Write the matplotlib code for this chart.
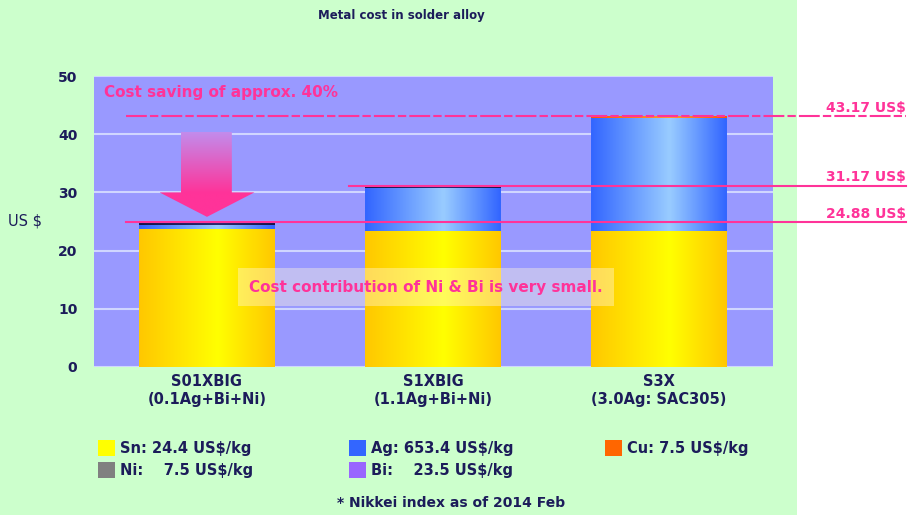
import numpy as np
import matplotlib
matplotlib.use("Agg")
import matplotlib.pyplot as plt
from matplotlib.patches import Rectangle, Polygon
from matplotlib.colors import to_rgb

plt.rcParams['font.family'] = ['DejaVu Sans']
plt.rcParams['font.weight'] = 'bold'

# data (US$ per kg alloy)
alloys = ['S01XBIG\n(0.1Ag+Bi+Ni)', 'S1XBIG\n(1.1Ag+Bi+Ni)', 'S3X\n(3.0Ag: SAC305)']
sn = [23.70, 23.30, 23.30]
ag = [0.65, 7.40, 19.55]
cu = [0.03, 0.04, 0.32]
ni = [0.05, 0.03, 0.00]
bi = [0.45, 0.40, 0.00]
totals = [24.88, 31.17, 43.17]
total_labels = ['24.88 US$', '31.17 US$', '43.17 US$']

legend_labels = ['Sn: 24.4 US$/kg', 'Ag: 653.4 US$/kg', 'Cu: 7.5 US$/kg',
                 'Ni:    7.5 US$/kg', 'Bi:    23.5 US$/kg']
legend_colors = ['#ffff00', '#3366ff', '#ff6600', '#808080', '#9966ff']

navy = '#1c1c5a'
pink = '#ff3399'

fig = plt.figure(figsize=(9.12, 5.15), dpi=100, facecolor='white')
fig.patches.append(Rectangle((0, 0), 797 / 912, 1, transform=fig.transFigure,
                             facecolor='#ccffcc', edgecolor='none', zorder=-10))

ax = fig.add_axes([94 / 912, 148 / 515, 679 / 912, 291 / 515])
ax.set_facecolor('#9999ff')
for s in ax.spines.values():
    s.set_visible(False)

x = np.arange(len(alloys))
w = 0.6

# segment colour gradients (edge, centre, edge)
grads = [('#ffc800', '#ffff00', '#ffc800'),
         ('#3366ff', '#99ccff', '#3366ff'),
         ('#ff5500', '#ff9933', '#ff5500'),
         ('#222233', '#555566', '#222233'),
         ('#14144a', '#2a2a70', '#14144a')]


def gradient(c_edge, c_mid, c_edge2, n=64):
    t = np.linspace(0, 1, n)
    a, b, c = np.array(to_rgb(c_edge)), np.array(to_rgb(c_mid)), np.array(to_rgb(c_edge2))
    pos = 0.58
    out = np.where(t[:, None] < pos,
                   a + (b - a) * (t[:, None] / pos),
                   b + (c - b) * ((t[:, None] - pos) / (1 - pos)))
    return out[None, :, :]


bottom = np.zeros(len(alloys))
for vals, g in zip([sn, ag, cu, ni, bi], grads):
    vals = np.array(vals)
    ax.bar(x, vals, w, bottom=bottom, color=g[1], edgecolor='none', zorder=2)
    img = gradient(*g)
    for xi, b, v in zip(x, bottom, vals):
        if v > 0:
            ax.imshow(img, extent=(xi - w / 2, xi + w / 2, b, b + v),
                      aspect='auto', zorder=3, interpolation='bilinear')
    bottom = bottom + vals

ax.set_yticks(range(0, 51, 10))
ax.yaxis.grid(True, color='#d0d6ff', linewidth=1.5, zorder=0)
ax.set_axisbelow(True)
ax.tick_params(length=0, labelsize=10, labelcolor=navy)
ax.tick_params(axis='y', pad=12)
ax.set_xticks(x)
ax.set_xticklabels(alloys, fontsize=10.5, color=navy, linespacing=1.25)
ax.tick_params(axis='x', pad=5)
ax.set_ylabel('US $', rotation=0, fontsize=10.5, color=navy, labelpad=24, va='center')

# total-cost reference lines
x_right = 3.093
ax.plot([-0.358, x_right], [totals[2], totals[2]], color=pink, lw=1.5,
        ls=(0, (10, 1.5, 4, 1.5)), clip_on=False, zorder=5)
ax.plot([0.628, x_right], [totals[1], totals[1]], color=pink, lw=1.5, clip_on=False, zorder=5)
ax.plot([-0.358, x_right], [totals[0], totals[0]], color=pink, lw=1.5, clip_on=False, zorder=5)
for t, lab in zip(totals, total_labels):
    ax.text(x_right, t + 0.2, lab, color=pink, fontsize=10, ha='right', va='bottom',
            clip_on=False)

# big arrow pointing at S01XBIG
arrow = Polygon([(-0.115, 40.4), (0.11, 40.4), (0.11, 30.0), (0.21, 30.0),
                 (0.0, 25.8), (-0.21, 30.0), (-0.115, 30.0)], closed=True,
                facecolor='none', edgecolor='none', zorder=4)
ax.add_patch(arrow)
agrad = np.linspace(0, 1, 200)[:, None]
top_c, bot_c = np.array(to_rgb('#c28cec')), np.array(to_rgb('#ff3399'))
acol = top_c + (bot_c - top_c) * np.clip(agrad * 1.4, 0, 1)
aim = ax.imshow(acol[:, None, :].repeat(2, axis=1), extent=(-0.21, 0.21, 25.8, 40.4),
                aspect='auto', zorder=4, interpolation='bilinear')
aim.set_clip_path(arrow)

ax.text(-0.455, 47.1, 'Cost saving of approx. 40%', color=pink, fontsize=11,
        ha='left', va='center', zorder=6)
ax.text(0.97, 13.7, 'Cost contribution of Ni & Bi is very small.', color=pink,
        fontsize=11, ha='center', va='center', zorder=6,
        bbox=dict(boxstyle='square,pad=0.75', facecolor='#fff8e0', alpha=0.4,
                  edgecolor='none'))

ax.set_xlim(-0.5, 2.505)
ax.set_ylim(0, 50)

fig.text(401 / 912, 1 - 15 / 515, 'Metal cost in solder alloy', color=navy,
         fontsize=8.5, ha='center', va='center')

# legend drawn as swatches + text
leg_pos = [(98, 448), (349, 448), (605, 448), (98, 470), (349, 470)]
for (px, py), lab, col in zip(leg_pos, legend_labels, legend_colors):
    fig.patches.append(Rectangle((px / 912, 1 - (py + 8) / 515), 17 / 912, 16 / 515,
                                 transform=fig.transFigure, facecolor=col,
                                 edgecolor='none'))
    fig.text((px + 22) / 912, 1 - py / 515, lab, color=navy, fontsize=10.5,
             ha='left', va='center')

fig.text(337 / 912, 1 - 503 / 515, '* Nikkei index as of 2014 Feb', color=navy,
         fontsize=10, ha='left', va='center')

fig.savefig('out.png', dpi=100, facecolor=fig.get_facecolor())
